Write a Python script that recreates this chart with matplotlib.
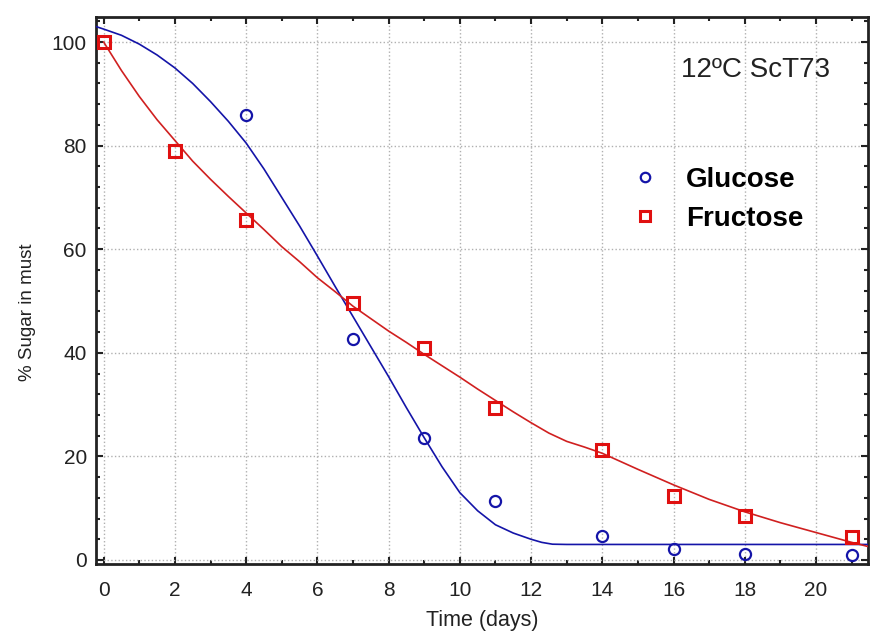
import numpy as np
import matplotlib
matplotlib.use("Agg")
import matplotlib.pyplot as plt
from matplotlib.ticker import MultipleLocator

plt.rcParams['font.family'] = ['Liberation Sans', 'DejaVu Sans']

# measured points
days = [0, 2, 4, 7, 9, 11, 14, 16, 18, 21]
glucose_days = [4, 7, 9, 11, 14, 16, 18, 21]
glucose = [86, 42.7, 23.6, 11.3, 4.7, 2.1, 1.2, 1.0]
fructose = [100, 79, 65.6, 49.6, 40.9, 29.4, 21.2, 12.4, 8.4, 4.5]

# fitted curves
glu_fit_x = [-0.22, 0, 0.5, 1, 1.5, 2, 2.5, 3, 3.5, 4, 4.5, 5, 5.5, 6, 6.5, 7, 7.5,
             8, 8.5, 9, 9.5, 10, 10.5, 11, 11.5, 12, 12.3, 12.6, 13, 21.46]
glu_fit_y = [103, 102.5, 101.3, 99.6, 97.5, 95, 92, 88.5, 84.7, 80.5, 75.5, 70, 64.5,
             58.7, 52.8, 47, 41.2, 35.4, 29.4, 23.6, 18, 13, 9.5, 6.8, 5.2, 4, 3.4,
             3.05, 3, 3]
fru_fit_x = [0, 0.5, 1, 1.5, 2, 2.5, 3, 3.5, 4, 4.5, 5, 5.5, 6, 6.5, 7, 7.5, 8, 8.5,
             9, 9.5, 10, 10.5, 11, 11.5, 12, 12.5, 13, 13.5, 14, 15, 16, 17, 18, 19,
             20, 21, 21.46]
fru_fit_y = [100, 94.5, 89.5, 85, 81, 77, 73.5, 70.2, 67, 63.8, 60.5, 57.6, 54.5, 51.8,
             49, 46.6, 44.2, 42, 39.7, 37.5, 35.3, 33, 30.8, 28.6, 26.5, 24.5, 22.9,
             21.8, 20.6, 17.5, 14.5, 11.7, 9.3, 7.2, 5.3, 3.4, 2.6]

blue = '#1414a8'
red = '#e01010'

fig = plt.figure(figsize=(8.71, 6.36), dpi=100)
ax = fig.add_axes([0.110, 0.113, 0.8866, 0.860])

ax.plot(glu_fit_x, glu_fit_y, color=blue, lw=1.2, zorder=3)
ax.plot(fru_fit_x, fru_fit_y, color='#d02020', lw=1.2, zorder=3)
ax.plot(glucose_days, glucose, 'o', mfc='none', mec=blue, ms=8, mew=1.6,
        label='Glucose', zorder=4)
ax.plot(days, fructose, 's', mfc='none', mec=red, ms=9, mew=2.2,
        label='Fructose', zorder=5)

ax.set_xlim(-0.22, 21.46)
ax.set_ylim(-0.8, 104.8)
ax.xaxis.set_major_locator(MultipleLocator(2))
ax.xaxis.set_minor_locator(MultipleLocator(1))
ax.yaxis.set_major_locator(MultipleLocator(20))
ax.yaxis.set_minor_locator(MultipleLocator(4))
ax.tick_params(which='both', direction='in', top=True, right=True, labelsize=15,
               colors='#222222', width=1.5)
ax.tick_params(which='major', length=5)
ax.tick_params(which='minor', length=3)
ax.tick_params(axis='x', pad=12)
ax.tick_params(axis='y', pad=6.5)
for s in ax.spines.values():
    s.set_linewidth(2)
    s.set_color('#222222')
ax.grid(True, which='major', ls=':', color='#b0b0b0', lw=1)

ax.set_xlabel('Time (days)', fontsize=15.5, color='#222222')
ax.xaxis.set_label_coords(0.5, -0.084)
ax.set_ylabel('% Sugar in must', fontsize=13.5, color='#222222')
ax.yaxis.set_label_coords(-0.078, 0.46)

ax.text(0.951, 0.903, '12ºC ScT73', transform=ax.transAxes, ha='right', va='center',
        fontsize=20, color='#222222')
leg = ax.legend(loc='upper left', bbox_to_anchor=(0.675, 0.752), frameon=False,
                prop={'weight': 'bold', 'size': 20}, handlelength=1.0,
                handletextpad=0.97, labelspacing=0.48, borderpad=0, markerscale=0.85)

fig.savefig('out.png', dpi=100)
